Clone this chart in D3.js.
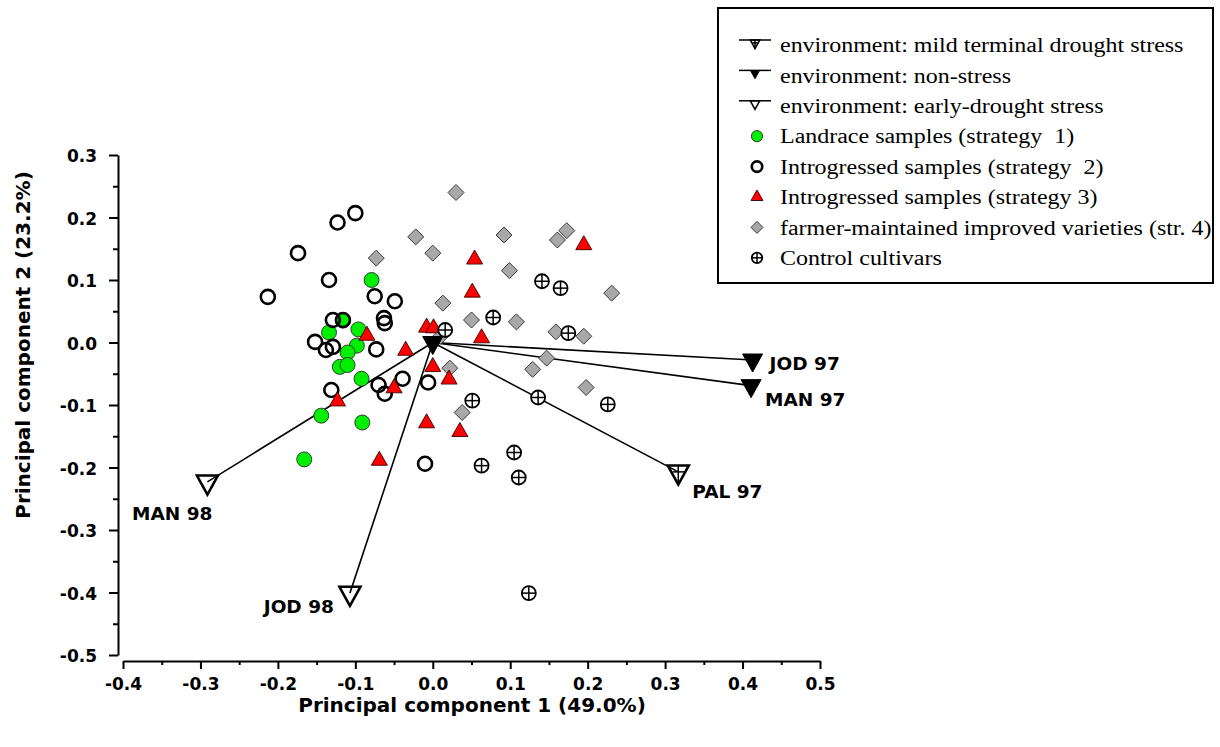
<!DOCTYPE html>
<html>
<head>
<meta charset="utf-8">
<script src="https://cdn.jsdelivr.net/npm/d3@7"></script>
<style>
  body { margin: 0; background: #fff; }
</style>
</head>
<body>
<script>
// ---- data (PC1, PC2) ----
var landrace = [[-0.079,0.100],[-0.134,0.016],[-0.116,0.035],[-0.096,0.021],[-0.098,-0.005],
  [-0.110,-0.016],[-0.120,-0.039],[-0.110,-0.036],[-0.092,-0.058],[-0.144,-0.117],
  [-0.091,-0.128],[-0.166,-0.187]];

var introgressed2 = [[-0.100,0.207],[-0.123,0.192],[-0.174,0.143],[-0.134,0.100],[-0.213,0.073],
  [-0.075,0.074],[-0.049,0.066],[-0.129,0.036],[-0.116,0.036],[-0.063,0.039],[-0.062,0.031],
  [-0.152,0.001],[-0.138,-0.012],[-0.129,-0.007],[-0.073,-0.011],[-0.070,-0.068],
  [-0.062,-0.082],[-0.039,-0.058],[-0.131,-0.076],[-0.006,-0.064],[-0.010,-0.194]];

var introgressed3 = [[-0.085,0.011],[-0.035,-0.013],[0.000,-0.039],[-0.050,-0.073],[-0.123,-0.094],
  [-0.008,-0.129],[-0.008,0.024],[0.001,0.023],[-0.069,-0.189],[0.035,-0.143],[0.021,-0.059],
  [0.063,0.007],[0.054,0.133],[0.051,0.080],[0.195,0.156]];

var farmerVarieties = [[0.030,0.240],[-0.022,0.169],[0.000,0.143],[-0.073,0.135],[0.013,0.063],
  [0.092,0.172],[0.173,0.179],[0.161,0.164],[0.099,0.115],[0.231,0.079],[0.050,0.036],
  [0.108,0.033],[0.159,0.017],[0.195,0.010],[0.147,-0.025],[0.129,-0.043],[0.198,-0.072],
  [0.022,-0.041],[0.038,-0.112],[0.010,0.010]];

var controls = [[0.141,0.098],[0.165,0.087],[0.078,0.040],[0.016,0.020],[0.175,0.015],
  [0.136,-0.088],[0.226,-0.099],[0.051,-0.093],[0.105,-0.176],[0.063,-0.197],
  [0.111,-0.216],[0.124,-0.401]];

// environment vectors
var envNames = ["JOD 97", "MAN 97", "PAL 97", "MAN 98", "JOD 98"];
var envTypes = ["non", "non", "mild", "early", "early"];
var envPC1   = [0.413, 0.411, 0.317, -0.291, -0.107];
var envPC2   = [-0.028, -0.069, -0.207, -0.223, -0.401];

var xTicks = [-0.4,-0.3,-0.2,-0.1,0.0,0.1,0.2,0.3,0.4,0.5];
var xMinor = [-0.35,-0.25,-0.15,-0.05,0.05,0.15,0.25,0.35,0.45];
var yTicks = [-0.5,-0.4,-0.3,-0.2,-0.1,0.0,0.1,0.2,0.3];
var yMinor = [-0.45,-0.35,-0.25,-0.15,-0.05,0.05,0.15,0.25];

var legendLabels = ["environment: mild terminal drought stress", "environment: non-stress",
  "environment: early-drought stress", "Landrace samples (strategy  1)",
  "Introgressed samples (strategy  2)", "Introgressed samples (strategy 3)",
  "farmer-maintained improved varieties (str. 4)", "Control cultivars"];
var legendKeys = ["mild", "non", "early", "land", "intro2", "intro3", "farmer", "control"];

// ---- chart ----
var W = 1220, H = 747;
var sans = "'DejaVu Sans', Arial, sans-serif";
var serif = "'Liberation Serif', 'Times New Roman', serif";

var svg = d3.select("body").append("svg")
  .attr("width", W).attr("height", H)
  .style("display", "block");

var x = d3.scaleLinear().domain([-0.4, 0.5]).range([123, 820]);
var y = d3.scaleLinear().domain([-0.5, 0.3]).range([655, 155]);

function triDown(w, h) { return "M" + (-w/2) + "," + (-h/3) + "L" + (w/2) + "," + (-h/3) + "L0," + (2*h/3) + "Z"; }
function triUp(w, h) { return "M0," + (-2*h/3) + "L" + (w/2) + "," + (h/3) + "L" + (-w/2) + "," + (h/3) + "Z"; }
function diamond(s) { return "M0," + (-s) + "L" + s + ",0L0," + s + "L" + (-s) + ",0Z"; }

// draws one marker of a given type into g (centered at 0,0), k = size factor
function drawMarker(g, type, k) {
  if (type == "land") {
    g.append("circle").attr("r", 7.5*k).attr("fill", "#00ee00").attr("stroke", "#2a2a2a").attr("stroke-width", 0.9);
  } else if (type == "intro2") {
    g.append("circle").attr("r", 7*k).attr("fill", "none").attr("stroke", "#000").attr("stroke-width", 2.6);
  } else if (type == "intro3") {
    g.append("path").attr("d", triUp(16*k, 14*k)).attr("fill", "#ff0000").attr("stroke", "#3a0000").attr("stroke-width", 0.9);
  } else if (type == "farmer") {
    g.append("path").attr("d", diamond(8*k)).attr("fill", "#a8a8a8").attr("stroke", "#3a3a3a").attr("stroke-width", 1);
  } else if (type == "control") {
    var r = 7*k;
    g.append("circle").attr("r", r).attr("fill", "#fff").attr("stroke", "#000").attr("stroke-width", 1.8);
    g.append("line").attr("x1", -r).attr("x2", r).attr("stroke", "#000").attr("stroke-width", 1.5);
    g.append("line").attr("y1", -r).attr("y2", r).attr("stroke", "#000").attr("stroke-width", 1.5);
  } else if (type == "non") {
    g.append("path").attr("d", triDown(20*k, 18*k)).attr("fill", "#000").attr("stroke", "#000").attr("stroke-width", 1);
  } else if (type == "early") {
    g.append("path").attr("d", triDown(21*k, 19*k)).attr("fill", "none").attr("stroke", "#000").attr("stroke-width", 2.6*Math.max(k, 0.6));
  } else if (type == "mild") {
    var w = 21*k, h = 19*k;
    g.append("path").attr("d", triDown(w, h)).attr("fill", "none").attr("stroke", "#000").attr("stroke-width", 2.6*Math.max(k, 0.6));
    g.append("line").attr("x1", -w*0.28).attr("x2", w*0.28).attr("stroke", "#000").attr("stroke-width", 1.5);
    g.append("line").attr("y1", -h/3).attr("y2", 2*h/3).attr("stroke", "#000").attr("stroke-width", 1.5);
  }
}

// axes
var xAxis = svg.append("g").attr("transform", "translate(0,661)")
  .call(d3.axisBottom(x).tickValues(xTicks).tickSize(8).tickSizeOuter(0).tickPadding(9)
    .tickFormat(function(d) { return d.toFixed(1); }));
svg.append("g").attr("transform", "translate(0,661)")
  .call(d3.axisBottom(x).tickValues(xMinor).tickSize(4).tickFormat(""))
  .select(".domain").remove();

var yAxis = svg.append("g").attr("transform", "translate(118,0)")
  .call(d3.axisLeft(y).tickValues(yTicks).tickSize(9).tickSizeOuter(0).tickPadding(12)
    .tickFormat(function(d) { return d.toFixed(1); }));
svg.append("g").attr("transform", "translate(118,0)")
  .call(d3.axisLeft(y).tickValues(yMinor).tickSize(5).tickFormat(""))
  .select(".domain").remove();

svg.selectAll(".domain, .tick line").attr("stroke", "#000").attr("stroke-width", 2);
svg.selectAll(".tick text")
  .style("font-family", sans).style("font-weight", "bold").style("font-size", "17px").attr("fill", "#000");
yAxis.selectAll(".tick text").attr("dy", "0.4em");

svg.append("text")
  .attr("x", 472).attr("y", 712)
  .attr("text-anchor", "middle")
  .style("font-family", sans).style("font-weight", "bold").style("font-size", "20px")
  .text("Principal component 1 (49.0%)");

svg.append("text")
  .attr("transform", "translate(30,345) rotate(-90)")
  .attr("text-anchor", "middle")
  .style("font-family", sans).style("font-weight", "bold").style("font-size", "20px")
  .text("Principal component 2 (23.2%)");

// environment vectors (drawn under the samples)
var env = envNames.map(function(n, i) { return {name: n, type: envTypes[i], pc1: envPC1[i], pc2: envPC2[i]}; });

svg.append("g").selectAll("line")
  .data(env)
  .enter().append("line")
  .attr("x1", x(0)).attr("y1", y(0))
  .attr("x2", function(d) { return x(d.pc1); })
  .attr("y2", function(d) { return y(d.pc2); })
  .attr("stroke", "#000").attr("stroke-width", 1.6);

// samples
var groups = [
  {key: "farmer", pts: farmerVarieties},
  {key: "land", pts: landrace},
  {key: "intro2", pts: introgressed2},
  {key: "intro3", pts: introgressed3},
  {key: "control", pts: controls}
];

groups.forEach(function(grp) {
  svg.append("g").selectAll("g")
    .data(grp.pts)
    .enter().append("g")
    .attr("transform", function(d) { return "translate(" + x(d[0]) + "," + y(d[1]) + ")"; })
    .each(function() { drawMarker(d3.select(this), grp.key, 1); });
});

// origin marker
drawMarker(svg.append("g").attr("transform", "translate(" + x(0) + "," + y(0) + ")"), "non", 1);

// environment end markers
var envG = svg.append("g").selectAll("g")
  .data(env)
  .enter().append("g")
  .attr("transform", function(d) { return "translate(" + x(d.pc1) + "," + y(d.pc2) + ")"; })
  .each(function(d) { drawMarker(d3.select(this), d.type, 1); });

// label offsets relative to marker
var labelOffset = {
  "JOD 97": [17, 10, "start"],
  "MAN 97": [14, 20, "start"],
  "PAL 97": [14, 26, "start"],
  "MAN 98": [5, 38, "end"],
  "JOD 98": [-16, 20, "end"]
};
envG.append("text")
  .attr("x", function(d) { return labelOffset[d.name][0]; })
  .attr("y", function(d) { return labelOffset[d.name][1]; })
  .attr("text-anchor", function(d) { return labelOffset[d.name][2]; })
  .style("font-family", sans).style("font-weight", "bold").style("font-size", "18.5px")
  .text(function(d) { return d.name; });

// legend
var legend = svg.append("g");
legend.append("rect")
  .attr("x", 718).attr("y", 8).attr("width", 495).attr("height", 275)
  .attr("fill", "#fff").attr("stroke", "#000").attr("stroke-width", 2);

var rows = legend.selectAll(".row")
  .data(legendKeys)
  .enter().append("g")
  .attr("class", "row")
  .attr("transform", function(d, i) { return "translate(0," + (45 + i * 30.4) + ")"; });

rows.each(function(d) {
  var g = d3.select(this);
  if (d == "mild" || d == "non" || d == "early") {
    g.append("line").attr("x1", 739).attr("x2", 771).attr("y1", -5).attr("y2", -5)
      .attr("stroke", "#000").attr("stroke-width", 1.5);
    drawMarker(g.append("g").attr("transform", "translate(755," + (-5 + 0.45*19/3) + ")"), d, 0.45);
  } else {
    drawMarker(g.append("g").attr("transform", "translate(757,0)"), d, 0.75);
  }
});

rows.append("text")
  .attr("transform", "translate(780,0) scale(1.17,1)")
  .attr("dy", "0.35em")
  .style("white-space", "pre")
  .style("font-family", serif).style("font-size", "20.5px")
  .text(function(d, i) { return legendLabels[i]; });
</script>
</body>
</html>
